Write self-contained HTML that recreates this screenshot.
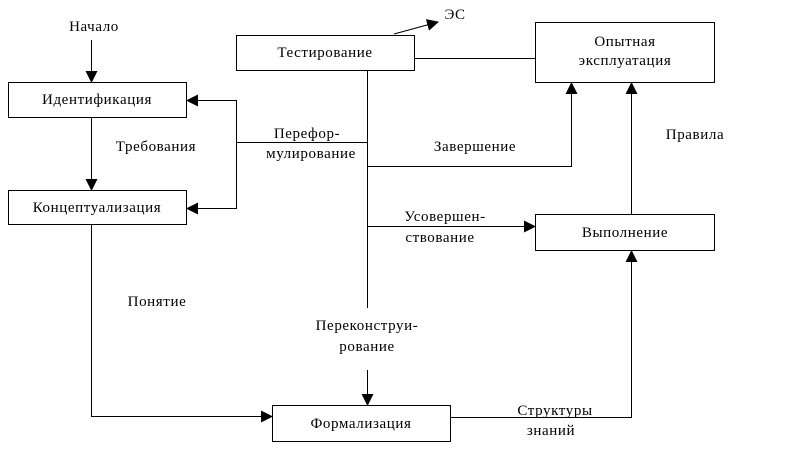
<!DOCTYPE html>
<html><head><meta charset="utf-8"><style>
body{margin:0;background:#fff;}
svg text{font-family:"Liberation Serif",serif;font-size:15px;letter-spacing:0.6px;fill:#000;}
</style></head><body>
<svg width="791" height="463" xmlns="http://www.w3.org/2000/svg">
<defs><marker id="a" markerWidth="12" markerHeight="12" refX="11" refY="6" orient="auto" markerUnits="userSpaceOnUse"><path d="M0,0 L12,6 L0,12 z" fill="#000"/></marker></defs>
<g fill="none" stroke="#000" stroke-width="1">
<rect x="8.5" y="82.5" width="178" height="35"/>
<rect x="8.5" y="190.5" width="178" height="34"/>
<rect x="236.5" y="35.5" width="178" height="35"/>
<rect x="535.5" y="22.5" width="179" height="60"/>
<rect x="535.5" y="214.5" width="179" height="36"/>
<rect x="272.5" y="405.5" width="178" height="36"/>
<line x1="91.5" y1="40" x2="91.5" y2="82" marker-end="url(#a)"/>
<line x1="91.5" y1="118" x2="91.5" y2="190" marker-end="url(#a)"/>
<polyline points="91.5,225 91.5,416.5 272,416.5" marker-end="url(#a)"/>
<line x1="236.5" y1="100.5" x2="187" y2="100.5" marker-end="url(#a)"/>
<line x1="236.5" y1="208.5" x2="187" y2="208.5" marker-end="url(#a)"/>
<line x1="236.5" y1="100" x2="236.5" y2="209"/>
<line x1="236" y1="142.5" x2="367" y2="142.5"/>
<line x1="367.5" y1="71" x2="367.5" y2="308"/>
<line x1="367.5" y1="370" x2="367.5" y2="405" marker-end="url(#a)"/>
<polyline points="367,166.5 571.5,166.5 571.5,83" marker-end="url(#a)"/>
<line x1="367" y1="226.5" x2="535" y2="226.5" marker-end="url(#a)"/>
<line x1="631.5" y1="214" x2="631.5" y2="83" marker-end="url(#a)"/>
<polyline points="451,417.5 631.5,417.5 631.5,251" marker-end="url(#a)"/>
<line x1="415" y1="58.5" x2="535" y2="58.5"/>
<line x1="394" y1="34" x2="438" y2="22" marker-end="url(#a)"/>
</g>
<g text-anchor="middle">
<text x="97" y="104">Идентификация</text>
<text x="97" y="212">Концептуализация</text>
<text x="325" y="57">Тестирование</text>
<text x="625" y="46">Опытная</text>
<text x="625" y="65">эксплуатация</text>
<text x="625" y="237">Выполнение</text>
<text x="361" y="428">Формализация</text>
<text x="94" y="31">Начало</text>
<text x="156" y="151">Требования</text>
<text x="157" y="306">Понятие</text>
<text x="307" y="138">Перефор-</text>
<text x="311" y="158">мулирование</text>
<text x="475" y="151">Завершение</text>
<text x="695" y="139">Правила</text>
<text x="445" y="221">Усовершен-</text>
<text x="440" y="242">ствование</text>
<text x="367" y="330">Переконструи-</text>
<text x="367" y="351">рование</text>
<text x="555" y="415">Структуры</text>
<text x="551" y="435">знаний</text>
<text x="455" y="19">ЭС</text>
</g>
</svg>
</body></html>
